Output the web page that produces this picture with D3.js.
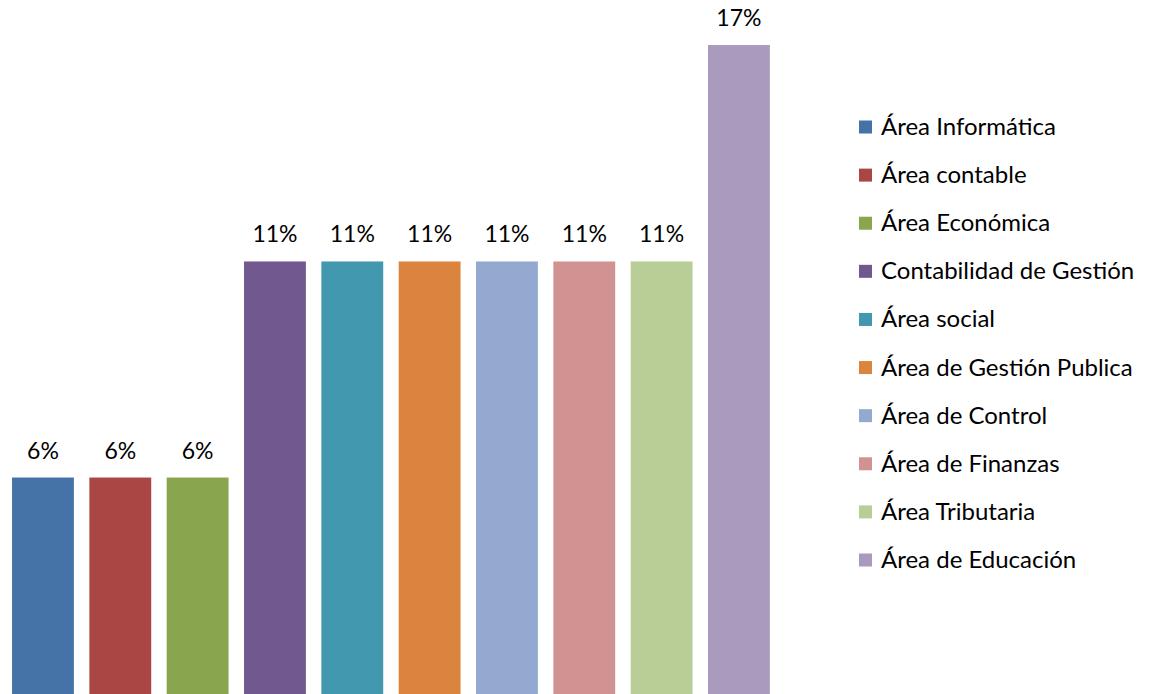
<!DOCTYPE html>
<html><head><meta charset="utf-8">
<script src="https://cdn.jsdelivr.net/npm/d3@7"></script>
<style>body{margin:0;background:#fff;}svg{display:block;font-family:Lato,"Open Sans",sans-serif;}</style>
</head><body>
<svg id="c" width="1157" height="694"></svg>
<script>
const categories = ["Área Informática","Área contable","Área Económica","Contabilidad de Gestión","Área social","Área de Gestión Publica","Área de Control","Área de Finanzas","Área Tributaria","Área de Educación"];
const values = [5.56,5.56,5.56,11.11,11.11,11.11,11.11,11.11,11.11,16.67];
const labels = ["6%","6%","6%","11%","11%","11%","11%","11%","11%","17%"];
const colors = ["#4572A7","#AA4643","#89A54E","#71588F","#4198AF","#DB843D","#93A9CF","#D19392","#B9CD96","#A99BBD"];

const svg = d3.select("#c");
const x = d3.scaleBand().domain(categories).range([4.3, 777.6]).paddingInner(0.2).paddingOuter(0.1);
const y = d3.scaleLinear().domain([0, 16.67]).range([694, 45]);

svg.selectAll("rect.bar").data(categories).join("rect")
  .attr("class","bar")
  .attr("x", d => x(d))
  .attr("width", x.bandwidth())
  .attr("y", (d,i) => y(values[i]))
  .attr("height", (d,i) => y(0) - y(values[i]))
  .attr("fill", (d,i) => colors[i]);

svg.selectAll("text.lbl").data(categories).join("text")
  .attr("class","lbl")
  .attr("x", d => x(d) + x.bandwidth()/2)
  .attr("y", (d,i) => y(values[i]) - 19)
  .attr("text-anchor","middle")
  .attr("font-size", 23)
  .attr("fill","#000")
  .text((d,i) => labels[i]);

const lg = svg.append("g");
const ly = d3.scalePoint().domain(categories).range([127, 560]);
categories.forEach((c,i) => {
  lg.append("rect").attr("x",859).attr("y",ly(c)-6.5).attr("width",13).attr("height",13).attr("fill",colors[i]);
  lg.append("text").attr("x",881).attr("y",ly(c)+8).attr("font-size",24).attr("fill","#000").text(c);
});
</script>
</body></html>
